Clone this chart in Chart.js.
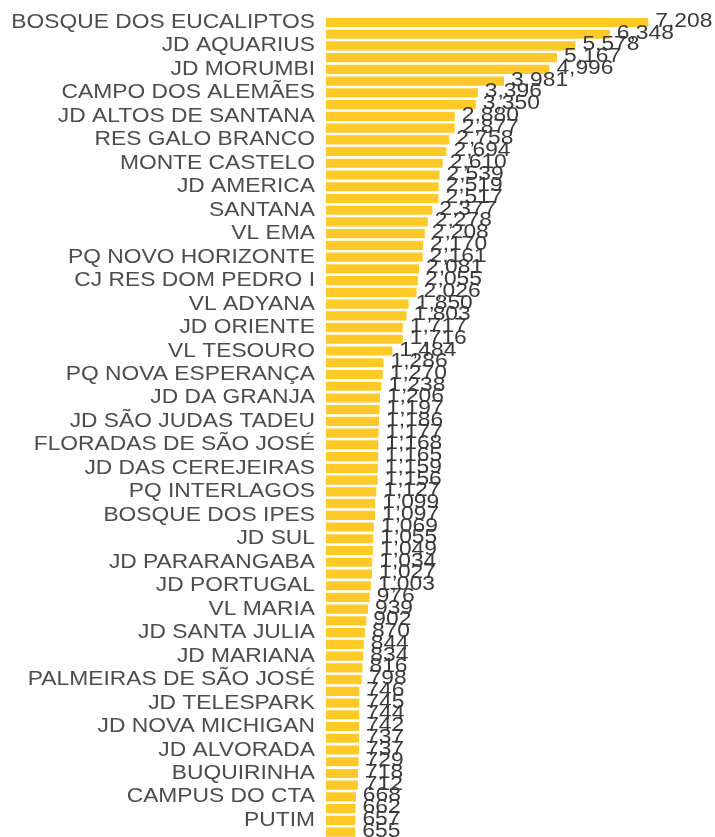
<!DOCTYPE html>
<html>
<head>
<meta charset="utf-8">
<script src="https://cdn.jsdelivr.net/npm/chart.js@4.4.1/dist/chart.umd.min.js"></script>
<style>
  html, body { margin: 0; padding: 0; background: #ffffff; overflow: hidden; }
  #wrap { width: 715px; height: 838px; position: relative; }
</style>
</head>
<body>
<div id="wrap"><canvas id="chart"></canvas></div>
<script>
// only every other neighbourhood name is printed in the source picture
const bairros = [
  "BOSQUE DOS EUCALIPTOS", "", "JD AQUARIUS", "", "JD MORUMBI", "",
  "CAMPO DOS ALEMÃES", "", "JD ALTOS DE SANTANA", "", "RES GALO BRANCO", "",
  "MONTE CASTELO", "", "JD AMERICA", "", "SANTANA", "", "VL EMA", "",
  "PQ NOVO HORIZONTE", "", "CJ RES DOM PEDRO I", "", "VL ADYANA", "",
  "JD ORIENTE", "", "VL TESOURO", "", "PQ NOVA ESPERANÇA", "",
  "JD DA GRANJA", "", "JD SÃO JUDAS TADEU", "", "FLORADAS DE SÃO JOSÉ", "",
  "JD DAS CEREJEIRAS", "", "PQ INTERLAGOS", "", "BOSQUE DOS IPES", "",
  "JD SUL", "", "JD PARARANGABA", "", "JD PORTUGAL", "", "VL MARIA", "",
  "JD SANTA JULIA", "", "JD MARIANA", "", "PALMEIRAS DE SÃO JOSÉ", "",
  "JD TELESPARK", "", "JD NOVA MICHIGAN", "", "JD ALVORADA", "",
  "BUQUIRINHA", "", "CAMPUS DO CTA", "", "PUTIM", ""
];

const totais = [
  7208, 6348, 5578, 5167, 4996, 3981, 3396, 3350, 2880, 2877,
  2758, 2694, 2610, 2539, 2519, 2517, 2377, 2278, 2208, 2170,
  2161, 2081, 2055, 2026, 1850, 1803, 1717, 1716, 1484, 1286,
  1270, 1238, 1206, 1197, 1186, 1177, 1168, 1165, 1159, 1156,
  1127, 1099, 1097, 1069, 1055, 1049, 1034, 1027, 1003, 976,
  939, 902, 870, 844, 834, 816, 798, 746, 745, 744,
  742, 737, 737, 729, 718, 712, 668, 662, 657, 655
];

const barColor = "#FFC928";
const fmt = new Intl.NumberFormat("en-US");
const fontSpec = "20px 'Liberation Sans', Arial, sans-serif";
const stretch = 1.14; // the source text is a little wide

// draws the axis names and the bar totals with the same widened font
const textLayer = {
  id: "textLayer",
  afterDatasetsDraw(chart) {
    const ctx = chart.ctx;
    const yScale = chart.scales.y;
    const meta = chart.getDatasetMeta(0);
    ctx.save();
    ctx.font = fontSpec;
    ctx.textBaseline = "middle";

    ctx.fillStyle = "#4D4D4D";
    ctx.textAlign = "right";
    bairros.forEach((name, i) => {
      if (!name) return;
      const y = yScale.getPixelForTick(i);
      ctx.save();
      ctx.translate(315, y);
      ctx.scale(stretch, 1);
      ctx.fillText(name, 0, 0);
      ctx.restore();
    });

    ctx.fillStyle = "#3A3A3A";
    ctx.textAlign = "left";
    meta.data.forEach((bar, i) => {
      ctx.save();
      ctx.translate(bar.x + 7, bar.y - 1);
      ctx.scale(stretch, 1);
      ctx.fillText(fmt.format(totais[i]), 0, 0);
      ctx.restore();
    });
    ctx.restore();
  }
};

new Chart(document.querySelector("#chart"), {
  type: "bar",
  data: {
    labels: bairros,
    datasets: [{
      data: totais,
      backgroundColor: barColor,
      borderWidth: 0,
      barPercentage: 0.78,
      categoryPercentage: 1
    }]
  },
  options: {
    indexAxis: "y",
    responsive: true,
    maintainAspectRatio: false,
    animation: false,
    layout: { padding: { top: 16.6, bottom: 0, left: 0, right: 0 } },
    plugins: {
      legend: { display: false },
      tooltip: { enabled: false }
    },
    scales: {
      x: {
        display: false,
        min: 0,
        max: 8700
      },
      y: {
        grid: { display: false, drawTicks: false },
        border: { display: false },
        ticks: { display: false, autoSkip: false },
        afterFit: (scale) => {
          scale.width = 326;
          scale.paddingTop = 0;
          scale.paddingBottom = 0;
        }
      }
    }
  },
  plugins: [textLayer]
});
</script>
</body>
</html>
